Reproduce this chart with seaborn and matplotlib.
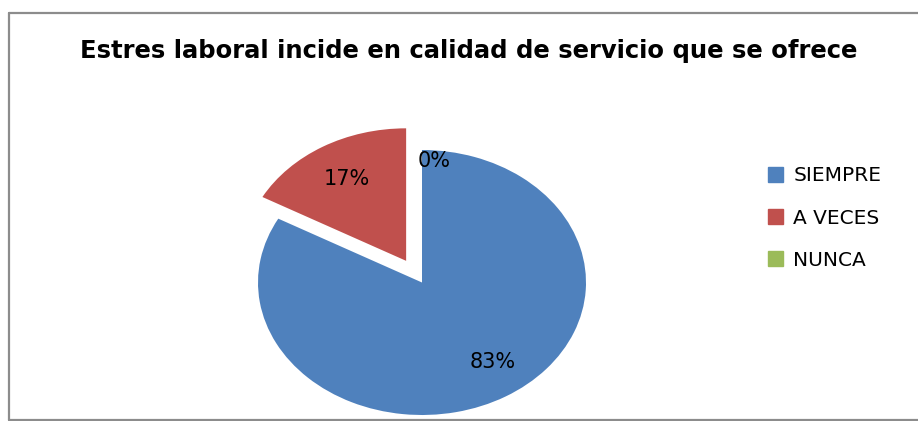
import matplotlib
matplotlib.use("Agg")
import matplotlib.pyplot as plt
from matplotlib.lines import Line2D
import seaborn as sns

sns.set_theme(style="white")
plt.rcParams['font.family'] = ['DejaVu Sans']

title = "Estres laboral incide en calidad de servicio que se ofrece"
categories = ["SIEMPRE", "A VECES", "NUNCA"]
values = [83, 17, 0]
colors = ["#4F81BD", "#C0504D", "#9BBB59"]
explode = [0, 0.19, 0]

W, H = 918, 421
fig = plt.figure(figsize=(W / 100, H / 100), dpi=100)
fig.patch.set_facecolor("white")

# pie ellipse geometry in pixels
cx, cy, rx, ry = 422, 282.5, 164, 132.5
xl, xh, yl, yh = -1.3, 1.3, -1.05, 1.3
ax = fig.add_axes([(cx + xl * rx) / W, (H - (cy - yl * ry)) / H,
                   (xh - xl) * rx / W, (yh - yl) * ry / H])

wedges, texts, autotexts = ax.pie(
    values, colors=colors, explode=explode, startangle=90, counterclock=False,
    autopct="%.0f%%", pctdistance=0.72,
    wedgeprops=dict(linewidth=0),
    textprops=dict(fontsize=15, color="black"))
ax.set_aspect("auto")
ax.set_xlim(xl, xh)
ax.set_ylim(yl, yh)
ax.axis("off")
for w in wedges:
    w.set_clip_on(False)
# Excel-like label placements
autotexts[0].set_position((0.43, -0.6))
autotexts[1].set_position((-0.46, 0.78))
autotexts[2].set_position((0.075, 0.92))

fig.text(469 / W, 1 - 51 / H, title, ha="center", va="center",
         fontsize=17.5, fontweight="bold", color="black")

handles = [plt.Rectangle((0, 0), 1, 1, color=c) for c in colors]
leg = fig.legend(handles, categories, loc="center left",
                 bbox_to_anchor=(750 / W, 1 - 218 / H), frameon=False,
                 fontsize=14.5, handlelength=0.75, handleheight=0.75,
                 handletextpad=0.5, labelspacing=1.15, labelcolor="black")

# outer border
kw = dict(color="#8C8C8C", linewidth=1.6, transform=fig.transFigure)
fig.add_artist(Line2D([8.5 / W, 8.5 / W], [1 - 12.5 / H, 1 - 420 / H], **kw))
fig.add_artist(Line2D([8.5 / W, 1.0], [1 - 12.5 / H, 1 - 12.5 / H], **kw))
fig.add_artist(Line2D([8.5 / W, 1.0], [1 - 420 / H, 1 - 420 / H], **kw))

fig.savefig("out.png", dpi=100)
